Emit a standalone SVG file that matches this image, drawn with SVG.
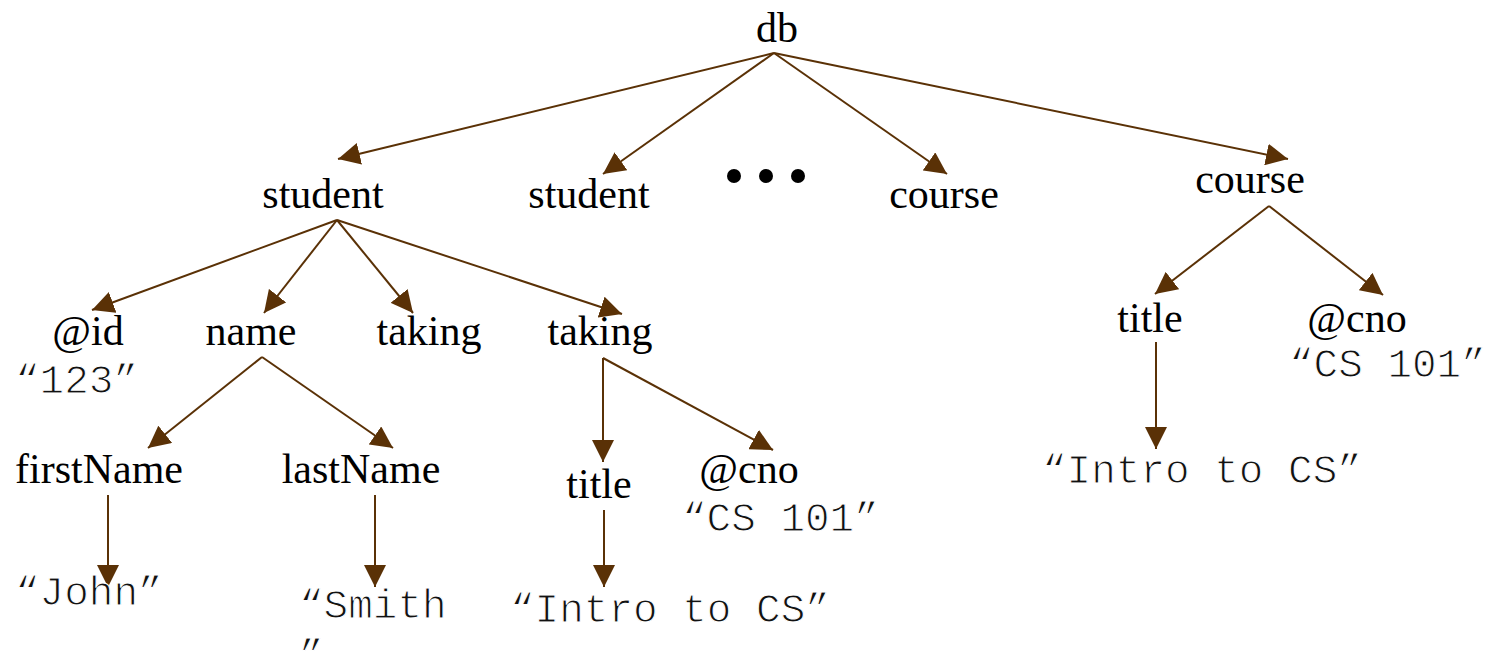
<svg xmlns="http://www.w3.org/2000/svg" width="1495" height="656" viewBox="0 0 1495 656">
  <style>
    .el { font-family: "Liberation Serif", "Times New Roman", serif; font-size: 42px; fill: #000; text-anchor: middle; }
    /* typewriter values: a thin white outline keeps the strokes light */
    .val { font-family: "Liberation Mono", "Courier New", monospace; font-size: 41px; fill: #111; stroke: #fff; stroke-width: 1.1px; }
    .edge { stroke: #5a3106; stroke-width: 2; fill: none; marker-end: url(#head); }
  </style>
  <defs>
    <marker id="head" markerUnits="userSpaceOnUse" markerWidth="22" markerHeight="22" viewBox="0 0 20 20" refX="20" refY="10" orient="auto">
      <path d="M0,0 L20,10 L0,20 Z" fill="#5a3106"/>
    </marker>
  </defs>
  <rect width="1495" height="656" fill="#fff"/>

  <!-- edges of the XML tree -->
  <g id="connectors">
    <line class="edge" x1="774" y1="53" x2="338" y2="159"/>
    <line class="edge" x1="774" y1="53" x2="603" y2="174"/>
    <line class="edge" x1="774" y1="53" x2="947" y2="174"/>
    <line class="edge" x1="774" y1="53" x2="1288" y2="159"/>

    <line class="edge" x1="337" y1="220" x2="92" y2="310"/>
    <line class="edge" x1="337" y1="220" x2="264" y2="313"/>
    <line class="edge" x1="337" y1="220" x2="413" y2="313"/>
    <line class="edge" x1="337" y1="220" x2="622" y2="314"/>

    <line class="edge" x1="262" y1="357" x2="148" y2="448"/>
    <line class="edge" x1="262" y1="357" x2="393" y2="448"/>

    <line class="edge" x1="603" y1="358" x2="603" y2="462"/>
    <line class="edge" x1="603" y1="358" x2="773" y2="450"/>

    <line class="edge" x1="108" y1="495" x2="108" y2="587"/>
    <line class="edge" x1="375" y1="495" x2="375" y2="587"/>
    <line class="edge" x1="604" y1="510" x2="604" y2="587"/>

    <line class="edge" x1="1269" y1="206" x2="1155" y2="294"/>
    <line class="edge" x1="1269" y1="206" x2="1383" y2="295"/>
    <line class="edge" x1="1156" y1="342" x2="1156" y2="449"/>
  </g>

  <g id="db"><text class="el" x="777" y="42">db</text></g>
  <g id="student1"><text class="el" x="323" y="208">student</text></g>
  <g id="student2"><text class="el" x="589" y="208">student</text></g>
  <g id="ellipsis" fill="#000">
    <circle cx="734" cy="176" r="7"/>
    <circle cx="766" cy="176" r="7"/>
    <circle cx="798" cy="176" r="7"/>
  </g>
  <g id="course1"><text class="el" x="944" y="208">course</text></g>
  <g id="course2"><text class="el" x="1250" y="193">course</text></g>

  <g id="attr-id">
    <text class="el" x="88" y="345">@id</text>
    <text class="val" x="15" y="393">“123”</text>
  </g>
  <g id="name"><text class="el" x="251" y="345">name</text></g>
  <g id="taking1"><text class="el" x="429" y="345">taking</text></g>
  <g id="taking2"><text class="el" x="600" y="345">taking</text></g>

  <g id="firstName">
    <text class="el" x="99" y="483">firstName</text>
    <text class="val" x="15" y="605">“John”</text>
  </g>
  <g id="lastName">
    <text class="el" x="361" y="483">lastName</text>
    <text class="val" x="299" y="618">“Smith</text>
    <text class="val" x="299" y="668">”</text>
  </g>

  <g id="taking-title">
    <text class="el" x="599" y="498">title</text>
    <text class="val" x="510" y="622">“Intro to CS”</text>
  </g>
  <g id="taking-cno">
    <text class="el" x="749" y="483">@cno</text>
    <text class="val" x="682" y="531">“CS 101”</text>
  </g>

  <g id="course-title">
    <text class="el" x="1150" y="332">title</text>
    <text class="val" x="1042" y="483">“Intro to CS”</text>
  </g>
  <g id="course-cno">
    <text class="el" x="1357" y="332">@cno</text>
    <text class="val" x="1289" y="377">“CS 101”</text>
  </g>
</svg>
